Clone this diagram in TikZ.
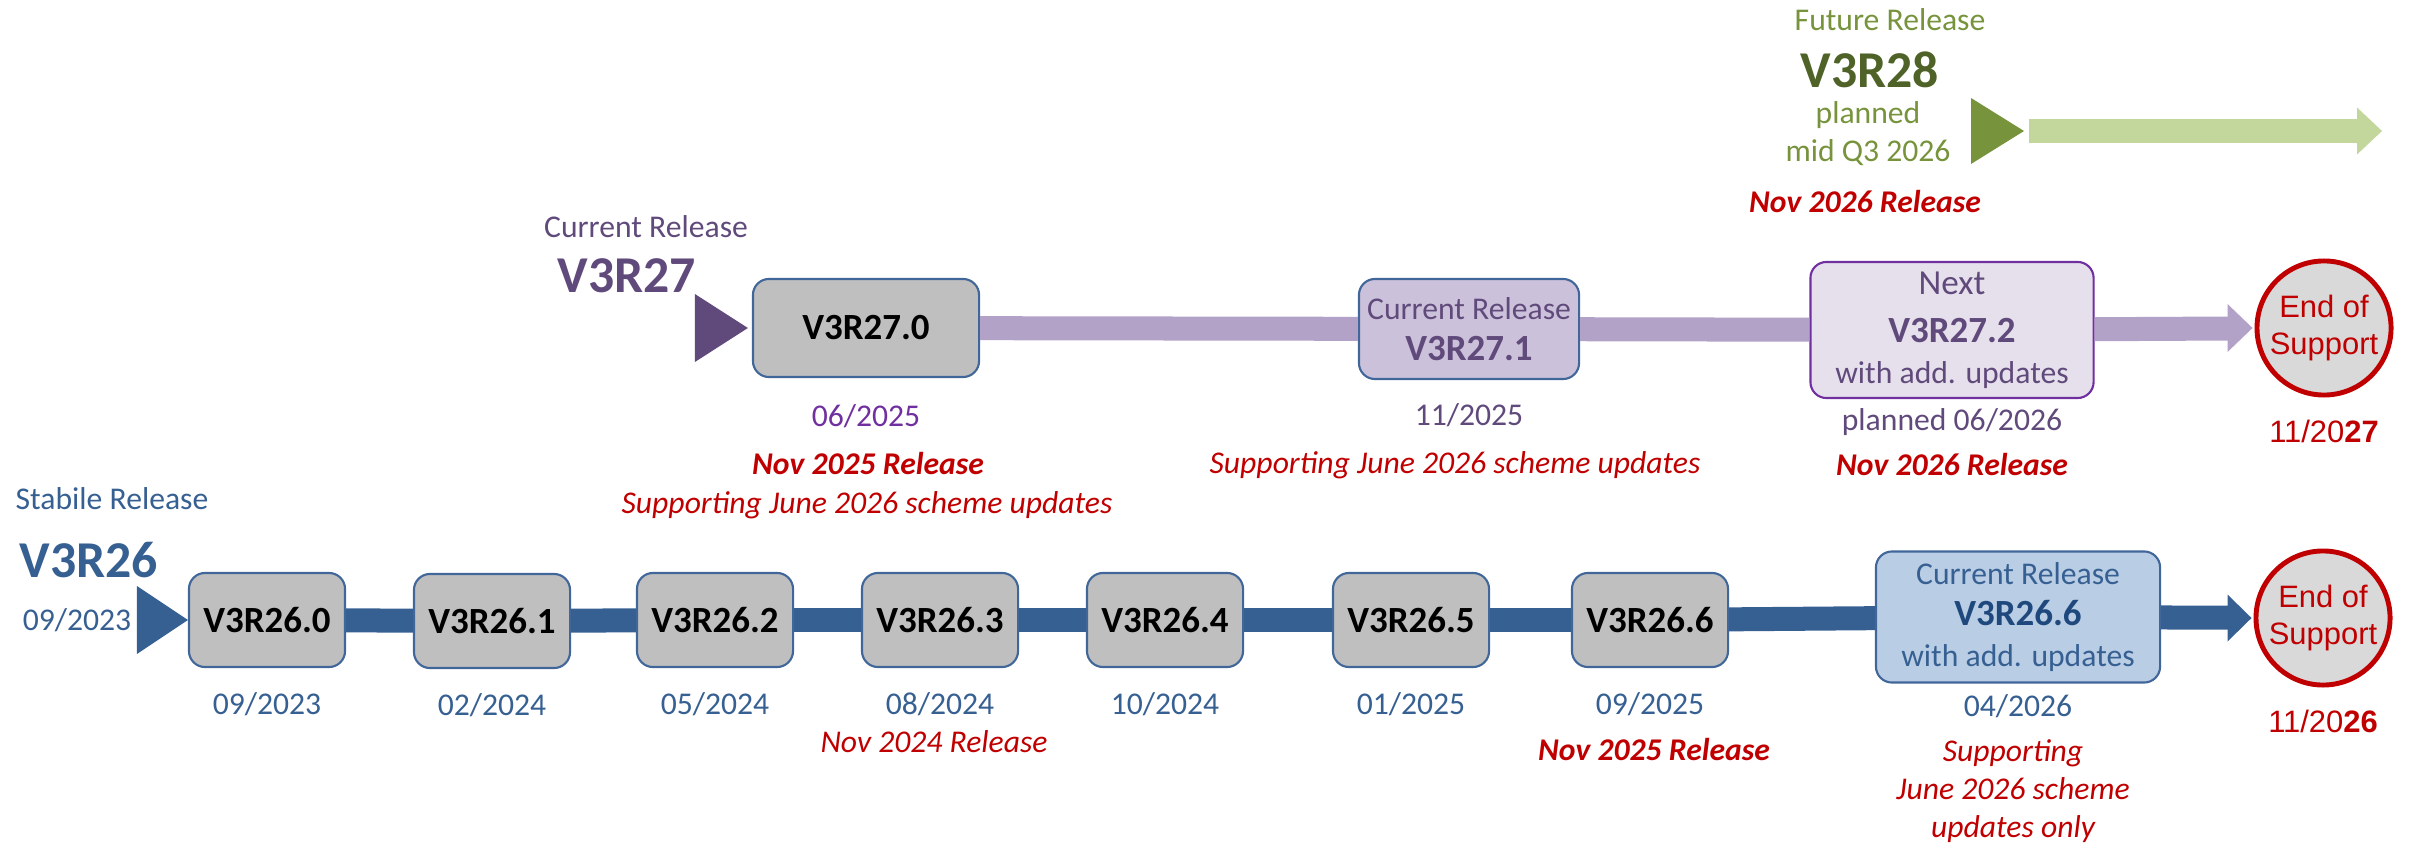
\documentclass[tikz,border=0pt]{standalone}
\usepackage{fontspec}
\setmainfont{Carlito}
\newfontfamily\eosfont{Liberation Sans}
\usetikzlibrary{positioning}
\definecolor{stabblue}{HTML}{376092}
\definecolor{stabdark}{HTML}{1F497D}
\definecolor{boxgray}{HTML}{BFBFBF}
\definecolor{boxline}{HTML}{41679A}
\definecolor{curlight}{HTML}{B9CDE5}
\definecolor{curpurple}{HTML}{604A7B}
\definecolor{barpurple}{HTML}{B3A2C7}
\definecolor{boxpurple}{HTML}{CCC1DA}
\definecolor{nextfill}{HTML}{E6E0EC}
\definecolor{nextline}{HTML}{7030A0}
\definecolor{futgreen}{HTML}{77933C}
\definecolor{futdark}{HTML}{4F6228}
\definecolor{bargreen}{HTML}{C3D69B}
\definecolor{relred}{HTML}{C00000}
\definecolor{eosgray}{HTML}{D9D9D9}
\tikzstyle{version} = [
  draw=boxline,
  line width=0.6pt,
  fill=boxgray,
  rounded corners=0.16cm,
  minimum width=1.56cm,
  minimum height=0.94cm,
  inner sep=0pt,
  align=center,
  font=\fontsize{10.5}{12}\selectfont\bfseries,
]
\tikzstyle{current} = [
  version,
  font=\fontsize{9}{11.7}\selectfont,
]
\tikzstyle{txt} = [
  inner sep=0pt,
  align=center,
  font=\fontsize{9}{10.8}\selectfont,
]
\tikzstyle{bigname} = [
  txt,
  font=\fontsize{14.7}{16}\selectfont\bfseries,
]
\tikzstyle{release} = [
  txt,
  text=relred,
  font=\fontsize{9}{10.8}\selectfont\bfseries\itshape,
]
\tikzstyle{support} = [
  txt,
  text=relred,
  font=\fontsize{9}{10.8}\selectfont\itshape,
]
\tikzstyle{eos} = [
  circle,
  draw=relred,
  line width=1.4pt,
  fill=eosgray,
  minimum size=1.34cm,
  inner sep=0pt,
  align=center,
  text=relred,
  font=\eosfont\fontsize{8.8}{10.8}\selectfont,
]
\tikzstyle{bar} = [
  line width=0.24cm,
]
\begin{document}
\begin{tikzpicture}[
    x=0.01cm,
    y=-0.01cm,
    node distance=0.84cm,
  ]
  \useasboundingbox (0,0) rectangle (2413,843);
  % future release
  \node[txt, text=futgreen]
  (fut28lbl) at (1890,20) {Future Release};
  \node[bigname, text=futdark]
  (fut28) at (1870,70) {V3R28};
  \node[txt, text=futgreen]
  (fut28plan) at (1868,134) {planned\\mid Q3 2026};
  \node[release]
  (fut28rel) at (1865,202) {Nov 2026 Release};
  \coordinate (fut28start) at (2024,131);
  \coordinate (fut28end) at (2382,131);
  \fill[futgreen] (fut28start) -- ++(-53,-33) -- ++(0,66) -- cycle;
  \path [bar, draw=bargreen] (fut28start) edge[shorten <=0.05cm, shorten >=0.23cm] (fut28end);
  \fill[bargreen] (fut28end) -- ++(-25,-23.5) -- ++(0,47) -- cycle;
  % current release
  \node[txt, text=curpurple]
  (cur27lbl) at (646,227) {Current Release};
  \node[bigname, text=curpurple]
  (cur27) at (627,276) {V3R27};
  \node[version, minimum width=2.26cm, minimum height=0.98cm]
  (v270) at (866,328) {V3R27.0};
  \node[current, fill=boxpurple, text=curpurple, minimum width=2.2cm, minimum height=1cm]
  (v271) at (1469,329) {Current Release\\{\fontsize{10.5}{11.7}\selectfont\bfseries V3R27.1}};
  \node[current, draw=nextline, fill=nextfill, text=curpurple, minimum width=2.83cm, minimum height=1.36cm]
  (next27) at (1952,330) {{\fontsize{10}{11.7}\selectfont Next}\\[0.07cm]{\fontsize{10.5}{11.7}\selectfont\bfseries V3R27.2}\\with add. updates};
  \node[eos]
  (eos27) at (2324,328) {End of\\Support};
  \fill[curpurple] ([xshift=-0.04cm]v270.west) -- ++(-53,-34) -- ++(0,68) -- cycle;
  \path [bar, draw=barpurple] (v270) edge (v271);
  \path [bar, draw=barpurple] (v271) edge (next27);
  \path [bar, draw=barpurple] (next27) edge[shorten >=0.25cm] (eos27);
  \fill[barpurple] ([xshift=-0.02cm]eos27.west) -- ++(-25,-24) -- ++(0,48) -- cycle;
  \node[txt, text=nextline, below of=v270, node distance=0.88cm]
  (v270date) {06/2025};
  \node[release]
  (v270rel) at (868,464) {Nov 2025 Release};
  \node[support]
  (v270sup) at (867,505) {Supporting June 2026 scheme updates};
  \node[txt, text=curpurple, below of=v271, node distance=0.86cm]
  (v271date) {11/2025};
  \node[support]
  (v271sup) at (1455,465) {Supporting June 2026 scheme updates};
  \node[txt, text=curpurple, below of=next27, node distance=0.92cm]
  (next27date) {planned 06/2026};
  \node[release]
  (next27rel) at (1952,465) {Nov 2026 Release};
  \node[txt, text=relred, font=\eosfont\fontsize{8.8}{10}\selectfont, below of=eos27, node distance=1.03cm]
  (eos27date) {11/20\textbf{27}};
  % stable release
  \node[txt, text=stabblue]
  (stab26lbl) at (112,499) {Stabile Release};
  \node[bigname, text=stabblue]
  (stab26) at (89,560) {V3R26};
  \node[txt, text=stabblue]
  (stab26date) at (77,620) {09/2023};
  \node[version]
  (v260) at (267,620) {V3R26.0};
  \node[version]
  (v261) at (492,621) {V3R26.1};
  \node[version]
  (v262) at (715,620) {V3R26.2};
  \node[version]
  (v263) at (940,620) {V3R26.3};
  \node[version]
  (v264) at (1165,620) {V3R26.4};
  \node[version]
  (v265) at (1411,620) {V3R26.5};
  \node[version]
  (v266) at (1650,620) {V3R26.6};
  \node[current, fill=curlight, text=stabblue, minimum width=2.84cm, minimum height=1.31cm]
  (cur26) at (2018,617) {Current Release\\{\fontsize{10.5}{11.7}\selectfont\bfseries\color{stabdark}V3R26.6}\\with add. updates};
  \node[eos]
  (eos26) at (2323,618) {End of\\Support};
  \fill[stabblue] (v260.west) -- ++(-51,-34) -- ++(0,68) -- cycle;
  \path [bar, draw=stabblue] (v260) edge (v261);
  \path [bar, draw=stabblue] (v261) edge (v262);
  \path [bar, draw=stabblue] (v262) edge (v263);
  \path [bar, draw=stabblue] (v263) edge (v264);
  \path [bar, draw=stabblue] (v264) edge (v265);
  \path [bar, draw=stabblue] (v265) edge (v266);
  \path [bar, draw=stabblue] (v266) edge (cur26);
  \path [bar, draw=stabblue] (cur26) edge[shorten >=0.23cm] (eos26);
  \fill[stabblue] ([xshift=-0.02cm]eos26.west) -- ++(-24,-23.5) -- ++(0,47) -- cycle;
  \node[txt, text=stabblue, below of=v260]
  (v260date) {09/2023};
  \node[txt, text=stabblue, below of=v261]
  (v261date) {02/2024};
  \node[txt, text=stabblue, below of=v262]
  (v262date) {05/2024};
  \node[txt, text=stabblue, below of=v263]
  (v263date) {08/2024};
  \node[txt, text=stabblue, below of=v264]
  (v264date) {10/2024};
  \node[txt, text=stabblue, below of=v265]
  (v265date) {01/2025};
  \node[txt, text=stabblue, below of=v266]
  (v266date) {09/2025};
  \node[txt, text=stabblue, below of=cur26, node distance=0.89cm]
  (cur26date) {04/2026};
  \node[support]
  (v263rel) at (934,742) {Nov 2024 Release};
  \node[release]
  (v266rel) at (1654,750) {Nov 2025 Release};
  \node[support, font=\fontsize{9}{10.9}\selectfont\itshape]
  (cur26sup) at (2013,791) {Supporting\\June 2026 scheme\\updates only};
  \node[txt, text=relred, font=\eosfont\fontsize{8.8}{10}\selectfont, below of=eos26, node distance=1.03cm]
  (eos26date) {11/20\textbf{26}};
\end{tikzpicture}
\end{document}
